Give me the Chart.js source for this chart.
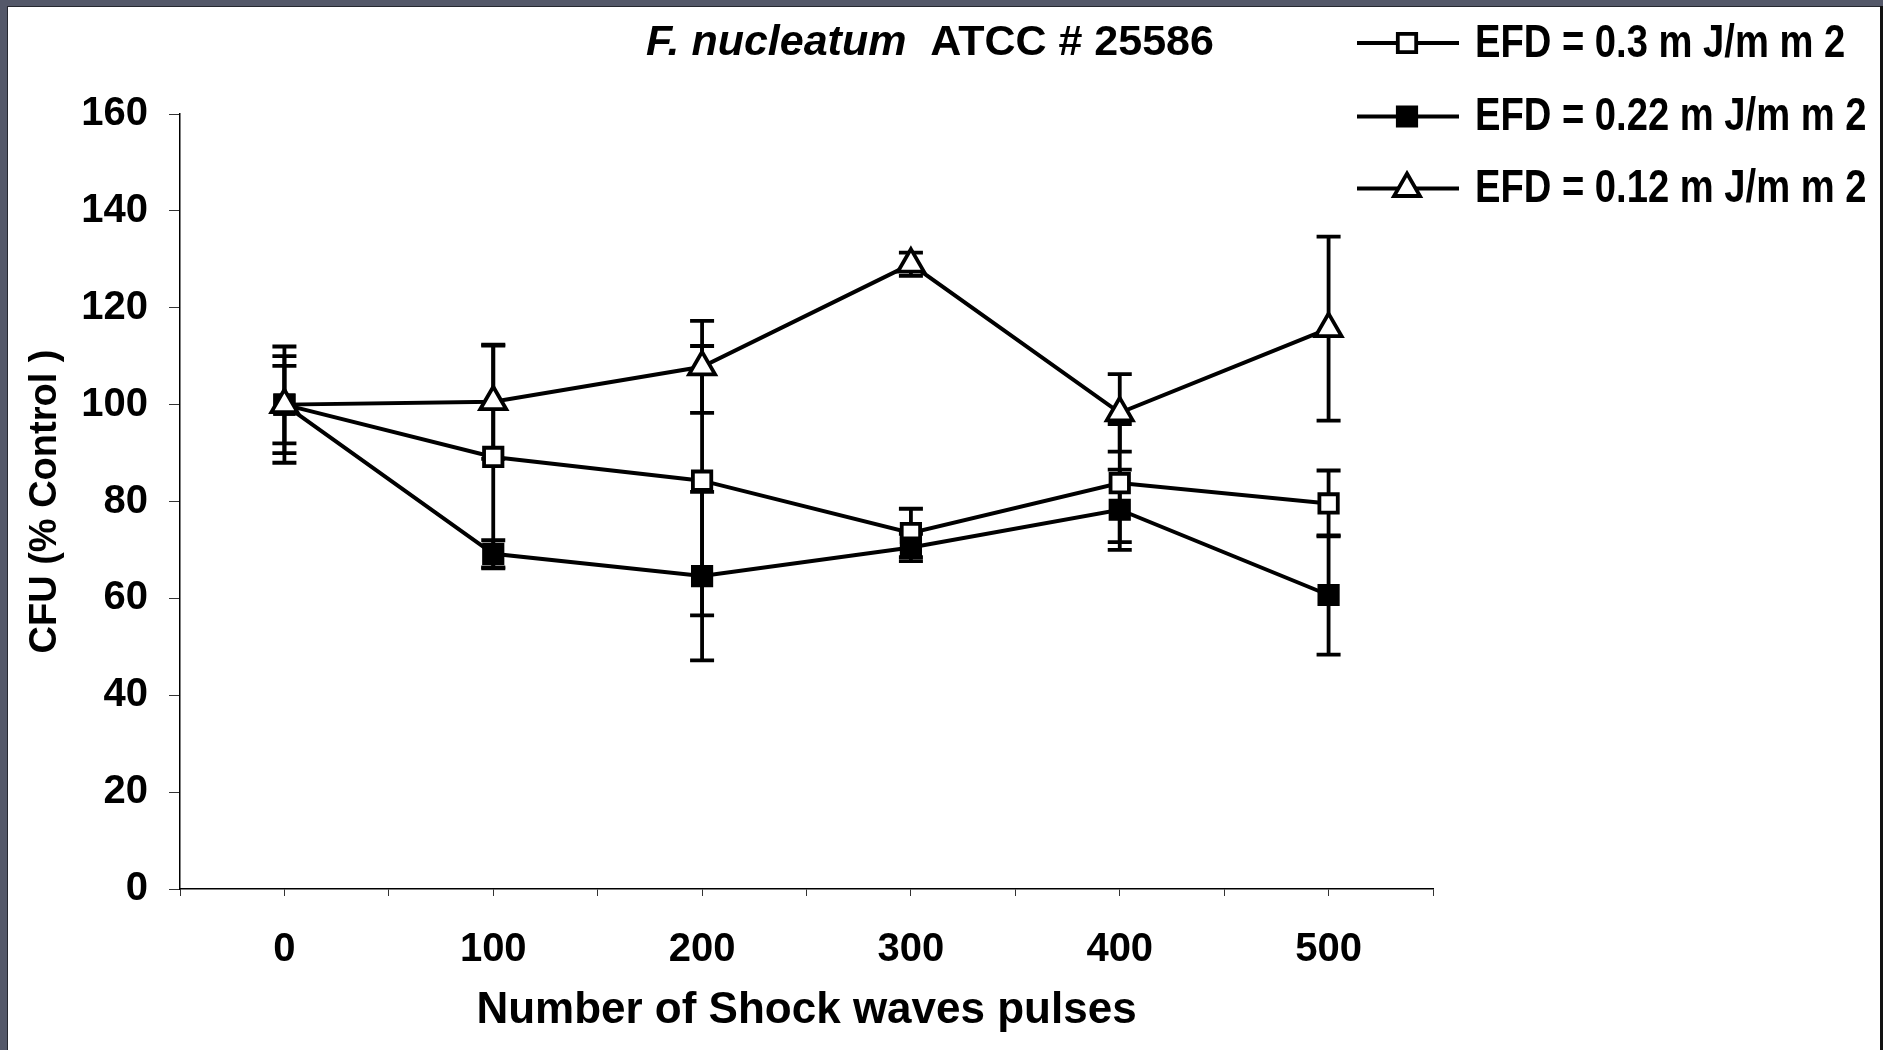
<!DOCTYPE html>
<html>
<head>
<meta charset="utf-8">
<title>F. nucleatum ATCC # 25586</title>
<script src="https://cdn.jsdelivr.net/npm/chart.js@4.4.1/dist/chart.umd.min.js"></script>
<style>
  html, body { margin: 0; padding: 0; background: #fff; }
  canvas { display: block; }
</style>
</head>
<body>
<canvas id="shockchart" width="1883" height="1050"></canvas>
<script>
// pulses on the x axis
const pulses = [0, 100, 200, 300, 400, 500]
const seriesLabels = ['EFD = 0.3 m J/m m 2', 'EFD = 0.22 m J/m m 2', 'EFD = 0.12 m J/m m 2']

// CFU (% control) and the error bar half lengths
const cfu03 = [100, 89.2, 84.3, 73.5, 83.8, 79.6]
const err03 = [12, 23, 27.8, 5, 12.2, 6.8]
const cfu022 = [100, 69.2, 64.6, 70.5, 78.3, 60.7]
const err022 = [10, 2.8, 17.4, 2.8, 8.3, 12.3]
const cfu012 = [100, 100.6, 107.8, 129, 98.3, 115.7]
const err012 = [8, 11.8, 9.5, 2.4, 8, 19]

// axes
const xMin = -50
const xMax = 550
const xStep = 50
const xLabelled = [0, 100, 200, 300, 400, 500]
const yMin = 0
const yMax = 160
const yStep = 20

const fontFamily = '"Liberation Sans", Arial, sans-serif'

function points(values){
    return pulses.map(function(p, i){ return {x: p, y: values[i]} })
}

// grey frame round the white sheet
const framePlugin = {
    id: 'frame',
    beforeDraw(chart){
        const ctx = chart.ctx
        ctx.save()
        ctx.fillStyle = '#545869'
        ctx.fillRect(0, 0, chart.width, chart.height)
        ctx.fillStyle = '#ffffff'
        ctx.fillRect(8, 7, chart.width - 11, chart.height - 7)
        ctx.fillStyle = '#262830'
        ctx.fillRect(7, 6, 1, chart.height)
        ctx.fillRect(7, 6, chart.width - 10, 1)
        ctx.fillStyle = '#111111'
        ctx.fillRect(chart.width - 3, 6, 3, chart.height)
        ctx.restore()
    }
}

// vertical error bars with caps
const errorBarPlugin = {
    id: 'errorBars',
    beforeDatasetsDraw(chart){
        const ctx = chart.ctx
        const xs = chart.scales.x
        const ys = chart.scales.y
        ctx.save()
        ctx.strokeStyle = '#000'
        ctx.lineWidth = 3.8
        chart.data.datasets.forEach(function(ds){
            ds.data.forEach(function(pt, i){
                const e = ds.errors[i]
                const x = xs.getPixelForValue(pt.x)
                const top = ys.getPixelForValue(pt.y + e)
                const bot = ys.getPixelForValue(pt.y - e)
                ctx.beginPath()
                ctx.moveTo(x, top)
                ctx.lineTo(x, bot)
                ctx.moveTo(x - 12, top)
                ctx.lineTo(x + 12, top)
                ctx.moveTo(x - 12, bot)
                ctx.lineTo(x + 12, bot)
                ctx.stroke()
            })
        })
        ctx.restore()
    }
}

// title with the italic species name
const titlePlugin = {
    id: 'mixedTitle',
    afterDraw(chart){
        const ctx = chart.ctx
        ctx.save()
        ctx.fillStyle = '#000'
        ctx.textBaseline = 'alphabetic'
        ctx.textAlign = 'left'
        ctx.font = 'italic bold 43px ' + fontFamily
        const species = 'F. nucleatum'
        ctx.fillText(species, 646, 55)
        const w = ctx.measureText(species).width
        ctx.font = 'bold 43px ' + fontFamily
        ctx.fillText('  ATCC # 25586', 646 + w, 55)
        ctx.restore()
    }
}

// legend up in the right corner
const legendPlugin = {
    id: 'cornerLegend',
    afterDraw(chart){
        const ctx = chart.ctx
        const rows = [43, 116.5, 188.5]
        chart.data.datasets.forEach(function(ds, i){
            const y = rows[i]
            ctx.save()
            ctx.strokeStyle = '#000'
            ctx.lineWidth = 4
            ctx.beginPath()
            ctx.moveTo(1357, y)
            ctx.lineTo(1459, y)
            ctx.stroke()
            ctx.fillStyle = ds.pointBackgroundColor
            ctx.strokeStyle = '#000'
            ctx.lineWidth = ds.pointBorderWidth
            Chart.helpers.drawPoint(ctx, {
                pointStyle: ds.pointStyle,
                radius: ds.pointRadius,
                rotation: 0,
                borderWidth: ds.pointBorderWidth
            }, 1407, y)
            ctx.fillStyle = '#000'
            ctx.font = 'bold 46px ' + fontFamily
            ctx.textBaseline = 'middle'
            ctx.textAlign = 'left'
            ctx.translate(1475, y + 1)
            ctx.scale(0.83, 1)
            ctx.fillText(ds.label, 0, 0)
            ctx.restore()
        })
    }
}

const canvas = document.getElementById('shockchart')
new Chart(canvas, {
    type: 'line',
    data: {
        datasets: [{
            label: seriesLabels[0],
            data: points(cfu03),
            errors: err03,
            borderColor: '#000',
            borderWidth: 4,
            pointStyle: 'rect',
            pointRadius: 13,
            pointBorderWidth: 3.8,
            pointBackgroundColor: '#fff',
            pointBorderColor: '#000',
            order: 2
        }, {
            label: seriesLabels[1],
            data: points(cfu022),
            errors: err022,
            borderColor: '#000',
            borderWidth: 4,
            pointStyle: 'rect',
            pointRadius: 13,
            pointBorderWidth: 3.8,
            pointBackgroundColor: '#000',
            pointBorderColor: '#000',
            order: 1
        }, {
            label: seriesLabels[2],
            data: points(cfu012),
            errors: err012,
            borderColor: '#000',
            borderWidth: 4,
            pointStyle: 'triangle',
            pointRadius: 15,
            pointBorderWidth: 3.8,
            pointBackgroundColor: '#fff',
            pointBorderColor: '#000',
            order: 0
        }]
    },
    options: {
        responsive: false,
        animation: false,
        devicePixelRatio: 1,
        layout: {
            padding: {left: 20, right: 450, top: 114, bottom: 13}
        },
        elements: {
            line: {tension: 0, fill: false}
        },
        plugins: {
            legend: {display: false},
            title: {display: false},
            tooltip: {enabled: false}
        },
        scales: {
            x: {
                type: 'linear',
                min: xMin,
                max: xMax,
                afterFit: function(scale){ scale.height = 148 },
                ticks: {
                    stepSize: xStep,
                    autoSkip: false,
                    maxRotation: 0,
                    padding: 30,
                    color: '#000',
                    font: {family: fontFamily, size: 40, weight: 'bold'},
                    callback: function(v){ return xLabelled.includes(v) ? String(v) : '' }
                },
                grid: {
                    drawOnChartArea: false,
                    drawTicks: true,
                    tickLength: 7,
                    color: '#333',
                    lineWidth: 1
                },
                border: {display: true, color: '#000', width: 1.5},
                title: {
                    display: true,
                    text: 'Number of Shock waves pulses',
                    color: '#000',
                    font: {family: fontFamily, size: 44, weight: 'bold'},
                    padding: {top: 0, bottom: 0}
                }
            },
            y: {
                min: yMin,
                max: yMax,
                afterFit: function(scale){ scale.width = 160 },
                ticks: {
                    stepSize: yStep,
                    padding: 21,
                    color: '#000',
                    font: {family: fontFamily, size: 40, weight: 'bold'}
                },
                grid: {
                    drawOnChartArea: false,
                    drawTicks: true,
                    tickLength: 11,
                    color: '#333',
                    lineWidth: 1
                },
                border: {display: true, color: '#000', width: 1.5},
                title: {
                    display: true,
                    text: 'CFU (% Control )',
                    color: '#000',
                    font: {family: fontFamily, size: 38, weight: 'bold'},
                    padding: {top: 3, bottom: 0}
                }
            }
        }
    },
    plugins: [framePlugin, errorBarPlugin, titlePlugin, legendPlugin]
})
</script>
</body>
</html>
